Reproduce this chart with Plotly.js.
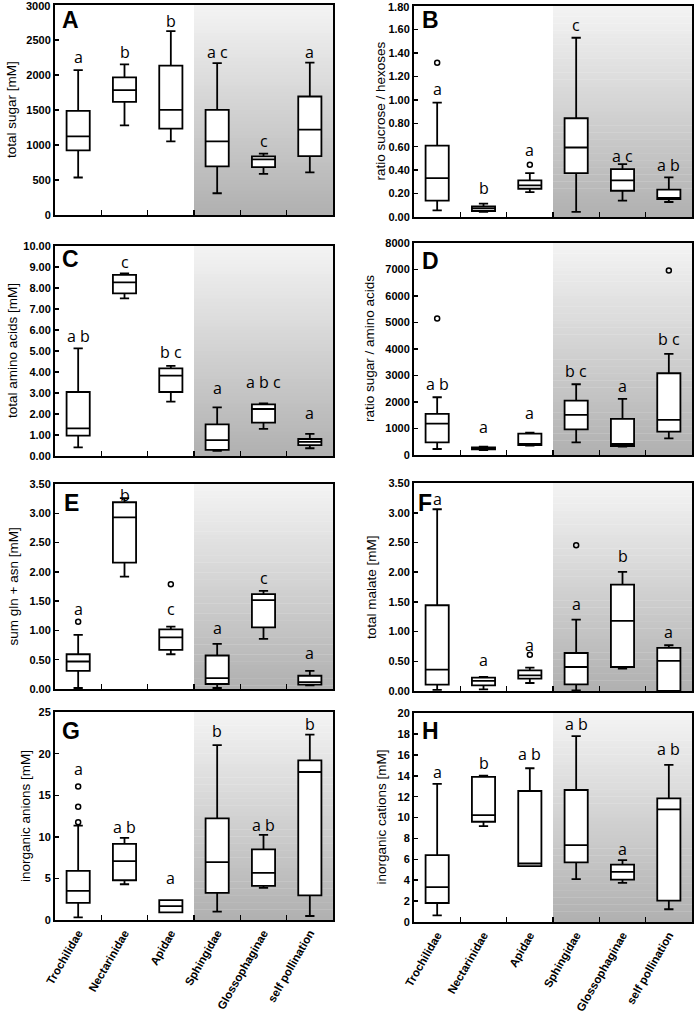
<!DOCTYPE html>
<html><head><meta charset="utf-8">
<script src="https://cdn.plot.ly/plotly-3.0.1.min.js"></script>
<style>body{margin:0;padding:0;background:#fff}#chart{width:696px;height:1013px}</style>
</head><body><div id="chart"></div>
<script>
const categories = ['Trochilidae','Nectarinidae','Apidae','Sphingidae','Glossophaginae','self pollination'];

// A: total sugar [mM]
const sugarLo  = [536, 1282, 1053, 311, 589, 608];
const sugarQ1  = [923, 1617, 1234, 694, 684, 842];
const sugarMed = [1124, 1785, 1502, 1053, 794, 1220];
const sugarQ3  = [1488, 1967, 2134, 1502, 837, 1694];
const sugarHi  = [2072, 2153, 2627, 2172, 876, 2177];
const sugarOutX = [];
const sugarOutY = [];
const sugarLetters = ['a','b','b','a c','c','a'];
const sugarLetterY = [2263, 2335, 2775, 2335, 1053, 2335];
const sugarTicks = [0, 500, 1000, 1500, 2000, 2500, 3000];

// B: ratio sucrose / hexoses
const ratioSHLo  = [0.057, 0.043, 0.213, 0.043, 0.139, 0.128];
const ratioSHQ1  = [0.139, 0.051, 0.241, 0.375, 0.224, 0.153];
const ratioSHMed = [0.332, 0.074, 0.270, 0.593, 0.312, 0.162];
const ratioSHQ3  = [0.610, 0.091, 0.312, 0.843, 0.409, 0.233];
const ratioSHHi  = [0.977, 0.114, 0.375, 1.53, 0.451, 0.338];
const ratioSHOutX = ['Trochilidae','Apidae'];
const ratioSHOutY = [1.317, 0.446];
const ratioSHLetters = ['a','b','a','c','a c','a b'];
const ratioSHLetterY = [1.09, 0.247, 0.573, 1.64, 0.52, 0.44];
const ratioSHTicks = [0, 0.2, 0.4, 0.6, 0.8, 1.0, 1.2, 1.4, 1.6, 1.8];

// C: total amino acids [mM]
const aminoLo  = [0.41, 7.51, 2.59, 0.24, 1.29, 0.37];
const aminoQ1  = [0.97, 7.75, 3.05, 0.29, 1.59, 0.52];
const aminoMed = [1.32, 8.27, 3.83, 0.76, 2.24, 0.67];
const aminoQ3  = [3.05, 8.63, 4.17, 1.51, 2.46, 0.81];
const aminoHi  = [5.13, 8.70, 4.29, 2.32, 2.51, 1.05];
const aminoOutX = [];
const aminoOutY = [];
const aminoLetters = ['a b','c','b c','a','a b c','a'];
const aminoLetterY = [5.71, 9.25, 4.97, 3.22, 3.54, 2.03];
const aminoTicks = [0, 1, 2, 3, 4, 5, 6, 7, 8, 9, 10];

// D: ratio sugar / amino acids
const ratioSALo  = [227, 189, 353, 479, 315, 630];
const ratioSAQ1  = [479, 214, 378, 970, 340, 882];
const ratioSAMed = [1184, 252, 403, 1512, 416, 1323];
const ratioSAQ3  = [1550, 290, 806, 2054, 1361, 3087];
const ratioSAHi  = [2180, 315, 844, 2671, 2117, 3818];
const ratioSAOutX = ['Trochilidae','self pollination'];
const ratioSAOutY = [5153, 6968];
const ratioSALetters = ['a b','a','a','b c','a','b c'];
const ratioSALetterY = [2684, 1071, 1575, 3175, 2621, 4385];
const ratioSATicks = [0, 1000, 2000, 3000, 4000, 5000, 6000, 7000, 8000];

// E: sum gln + asn [mM]
const glnLo  = [0.017, 1.92, 0.594, 0.017, 0.855, 0.062];
const glnQ1  = [0.311, 2.157, 0.668, 0.085, 1.053, 0.074];
const glnMed = [0.470, 2.93, 0.883, 0.187, 1.517, 0.119];
const glnQ3  = [0.594, 3.19, 1.019, 0.572, 1.619, 0.226];
const glnHi  = [0.923, 3.26, 1.064, 0.770, 1.675, 0.311];
const glnOutX = ['Trochilidae','Apidae'];
const glnOutY = [1.149, 1.789];
const glnLetters = ['a','b','c','a','c','a'];
const glnLetterY = [1.375, 3.32, 1.375, 1.047, 1.90, 0.611];
const glnTicks = [0, 0.5, 1.0, 1.5, 2.0, 2.5, 3.0, 3.5];

// F: total malate [mM]
const malateLo  = [0.02, 0.028, 0.135, 0.011, 0.376, 0.0];
const malateQ1  = [0.107, 0.096, 0.208, 0.112, 0.404, 0.0];
const malateMed = [0.360, 0.169, 0.264, 0.404, 1.180, 0.506];
const malateQ3  = [1.444, 0.225, 0.348, 0.640, 1.792, 0.725];
const malateHi  = [3.06, 0.236, 0.393, 1.202, 2.006, 0.770];
const malateOutX = ['Apidae','Sphingidae'];
const malateOutY = [0.612, 2.455];
const malateLetters = ['a','a','a','a','b','a'];
const malateLetterY = [3.24, 0.528, 0.77, 1.472, 2.27, 0.994];
const malateTicks = [0, 0.5, 1.0, 1.5, 2.0, 2.5, 3.0, 3.5];

// G: inorganic anions [mM]
const anionLo  = [0.32, 4.30, 0.92, 1.0, 3.86, 0.48];
const anionQ1  = [2.07, 4.78, 0.92, 3.27, 4.10, 2.95];
const anionMed = [3.51, 7.09, 1.67, 6.97, 5.66, 17.8];
const anionQ3  = [5.90, 9.16, 2.39, 12.23, 8.49, 19.2];
const anionHi  = [11.35, 9.88, 2.39, 21.04, 10.24, 22.3];
const anionOutX = ['Trochilidae','Trochilidae','Trochilidae'];
const anionOutY = [11.75, 13.63, 16.06];
const anionLetters = ['a','a b','a','b','a b','b'];
const anionLetterY = [18.13, 11.24, 5.06, 22.7, 11.43, 23.6];
const anionTicks = [0, 5, 10, 15, 20, 25];

// H: inorganic cations [mM]
const cationLo  = [0.64, 9.18, 5.34, 4.10, 3.74, 1.22];
const cationQ1  = [1.82, 9.6, 5.34, 5.70, 4.06, 2.05];
const cationMed = [3.33, 10.24, 5.6, 7.36, 4.8, 10.78];
const cationQ3  = [6.40, 13.89, 12.54, 12.64, 5.5, 11.84];
const cationHi  = [13.22, 14.02, 14.72, 17.8, 5.92, 15.04];
const cationOutX = [];
const cationOutY = [];
const cationLetters = ['a','b','a b','a b','a','a b'];
const cationLetterY = [14.34, 15.2, 16.1, 19.0, 6.98, 16.54];
const cationTicks = [0, 2, 4, 6, 8, 10, 12, 14, 16, 18, 20];

const W = 696, H = 1013;
const panelDefs = [
  {tag:'A', title:'total sugar [mM]', lo:sugarLo, q1:sugarQ1, med:sugarMed, q3:sugarQ3, hi:sugarHi, ox:sugarOutX, oy:sugarOutY, let:sugarLetters, ly:sugarLetterY,
   ticks:sugarTicks, dec:0, px:[55,333,5,215], titleX:12, tagY:20, tagDX:5},
  {tag:'B', title:'ratio sucrose / hexoses', lo:ratioSHLo, q1:ratioSHQ1, med:ratioSHMed, q3:ratioSHQ3, hi:ratioSHHi, ox:ratioSHOutX, oy:ratioSHOutY, let:ratioSHLetters, ly:ratioSHLetterY,
   ticks:ratioSHTicks, dec:2, px:[414,692,6,217], titleX:380, tagY:20, tagDX:6},
  {tag:'C', title:'total amino acids [mM]', lo:aminoLo, q1:aminoQ1, med:aminoMed, q3:aminoQ3, hi:aminoHi, ox:aminoOutX, oy:aminoOutY, let:aminoLetters, ly:aminoLetterY,
   ticks:aminoTicks, dec:2, px:[55,333,246,456], titleX:12, tagY:259, tagDX:5},
  {tag:'D', title:'ratio sugar / amino acids', lo:ratioSALo, q1:ratioSAQ1, med:ratioSAMed, q3:ratioSAQ3, hi:ratioSAHi, ox:ratioSAOutX, oy:ratioSAOutY, let:ratioSALetters, ly:ratioSALetterY,
   ticks:ratioSATicks, dec:0, px:[414,692,243,455], titleX:369, tagY:261, tagDX:6},
  {tag:'E', title:'sum gln + asn [mM]', lo:glnLo, q1:glnQ1, med:glnMed, q3:glnQ3, hi:glnHi, ox:glnOutX, oy:glnOutY, let:glnLetters, ly:glnLetterY,
   ticks:glnTicks, dec:2, px:[55,333,484,689], titleX:13, tagY:503, tagDX:7},
  {tag:'F', title:'total malate [mM]', lo:malateLo, q1:malateQ1, med:malateMed, q3:malateQ3, hi:malateHi, ox:malateOutX, oy:malateOutY, let:malateLetters, ly:malateLetterY,
   ticks:malateTicks, dec:2, px:[414,692,483,691], titleX:371, tagY:503, tagDX:2},
  {tag:'G', title:'inorganic anions [mM]', lo:anionLo, q1:anionQ1, med:anionMed, q3:anionQ3, hi:anionHi, ox:anionOutX, oy:anionOutY, let:anionLetters, ly:anionLetterY,
   ticks:anionTicks, dec:0, px:[55,333,712,920], titleX:25, tagY:731, tagDX:5},
  {tag:'H', title:'inorganic cations [mM]', lo:cationLo, q1:cationQ1, med:cationMed, q3:cationQ3, hi:cationHi, ox:cationOutX, oy:cationOutY, let:cationLetters, ly:cationLetterY,
   ticks:cationTicks, dec:0, px:[414,692,713,922], titleX:381, tagY:731, tagDX:6}
];

const traces = [];
const layout = {
  width: W, height: H,
  margin: {l:0, r:0, t:0, b:0},
  paper_bgcolor: 'white', plot_bgcolor: 'white',
  showlegend: false,
  font: {family: 'Liberation Sans, Arial, sans-serif', color: '#000'},
  shapes: [], annotations: []
};

const NSTRIPES = 60;
const grayTop = 244, grayBottom = 176;
const tickFont = {family: 'Liberation Sans, Arial, sans-serif', size: 11, weight: 'bold', color: '#000'};

panelDefs.forEach((p, i) => {
  const n = i + 1;
  const xa = n === 1 ? 'x' : 'x' + n;
  const ya = n === 1 ? 'y' : 'y' + n;
  const xkey = n === 1 ? 'xaxis' : 'xaxis' + n;
  const ykey = n === 1 ? 'yaxis' : 'yaxis' + n;
  const [L, R, T, B] = p.px;
  const bottomRow = (p.tag === 'G' || p.tag === 'H');
  const top = p.ticks[p.ticks.length - 1];
  const labels = p.ticks.map(v => v.toFixed(p.dec));
  // top label too close to the page edge: drawn as annotation instead
  const edgeTop = T < 12;
  const tickText = labels.map((s, k) => (edgeTop && k === labels.length - 1) ? '' : s);

  layout[xkey] = {
    domain: [L / W, R / W], anchor: ya,
    type: 'category', categoryorder: 'array', categoryarray: categories,
    range: [-0.5, 5.5], tickson: 'boundaries',
    ticks: 'inside', ticklen: 5, tickwidth: 1.5, tickcolor: '#000',
    showline: true, mirror: true, linecolor: '#000', linewidth: 2,
    showgrid: false, zeroline: false,
    showticklabels: bottomRow, tickangle: -60,
    tickfont: {family: 'Liberation Sans, Arial, sans-serif', size: 11.5, weight: 'bold', color: '#000'},
    fixedrange: true
  };
  layout[ykey] = {
    domain: [1 - B / H, 1 - T / H], anchor: xa,
    range: [0, top * 1.0005],
    tickmode: 'array', tickvals: p.ticks, ticktext: tickText,
    ticks: 'inside', ticklen: 4, tickwidth: 1.5, tickcolor: '#000',
    showline: true, mirror: true, linecolor: '#000', linewidth: 2,
    showgrid: false, zeroline: false,
    tickfont: tickFont,
    fixedrange: true
  };

  if (edgeTop) {
    layout.annotations.push({
      xref: 'paper', yref: ya, x: (L - 3) / W, y: top,
      xanchor: 'right', yanchor: 'middle', yshift: -1, showarrow: false,
      text: '<b>' + labels[labels.length - 1] + '</b>',
      font: {family: tickFont.family, size: tickFont.size, color: '#000'}
    });
  }

  for (let k = 0; k < NSTRIPES; k++) {
    const t = (k + 0.5) / NSTRIPES;
    const v = Math.round(grayBottom + (grayTop - grayBottom) * t);
    layout.shapes.push({
      type: 'rect', layer: 'below', xref: xa, yref: ya + ' domain',
      x0: 2.5, x1: 5.5, y0: k / NSTRIPES, y1: (k + 1) / NSTRIPES + 0.002,
      fillcolor: 'rgb(' + v + ',' + v + ',' + v + ')', line: {width: 0}
    });
  }

  traces.push({
    type: 'box', xaxis: xa, yaxis: ya,
    x: categories, q1: p.q1, median: p.med, q3: p.q3,
    lowerfence: p.lo, upperfence: p.hi,
    boxpoints: false, width: 0.5, whiskerwidth: 0.4,
    fillcolor: 'white', line: {color: '#000', width: 1.8},
    hoverinfo: 'skip', showlegend: false
  });

  if (p.ox.length) {
    traces.push({
      type: 'scatter', mode: 'markers', xaxis: xa, yaxis: ya,
      x: p.ox, y: p.oy,
      marker: {symbol: 'circle-open', size: 5, color: '#000', line: {width: 1.5, color: '#000'}},
      hoverinfo: 'skip', showlegend: false, cliponaxis: false
    });
  }

  p.let.forEach((txt, j) => {
    layout.annotations.push({
      xref: xa, yref: ya, x: categories[j], y: p.ly[j],
      text: txt, showarrow: false, xanchor: 'center', yanchor: 'middle',
      font: {family: 'Open Sans, sans-serif', size: 16, color: '#000'}
    });
  });

  layout.annotations.push({
    xref: 'paper', yref: 'paper', x: (L + p.tagDX) / W, y: 1 - p.tagY / H,
    xanchor: 'left', yanchor: 'middle', showarrow: false,
    text: '<b>' + p.tag + '</b>',
    font: {family: 'Liberation Sans, Arial, sans-serif', size: 23, color: '#000'}
  });

  layout.annotations.push({
    xref: 'paper', yref: 'paper', x: p.titleX / W, y: 1 - ((T + B) / 2) / H,
    xanchor: 'center', yanchor: 'middle', showarrow: false, textangle: -90,
    text: p.title,
    font: {family: 'Liberation Sans, Arial, sans-serif', size: 13.5, color: '#000'}
  });
});

Plotly.newPlot('chart', traces, layout, {staticPlot: true, displayModeBar: false});
</script>
</body></html>
